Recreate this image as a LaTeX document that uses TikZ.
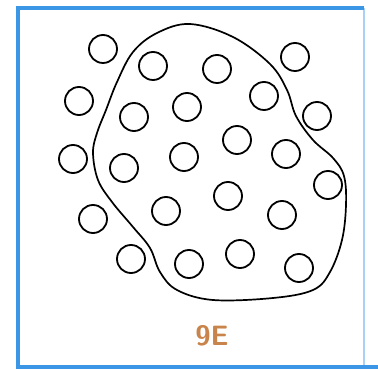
\documentclass[tikz,border=0pt]{standalone}
\usepackage{tikz}
\usetikzlibrary{positioning}
\definecolor{azulmarco}{HTML}{3C96E6}
\definecolor{azulclaro}{HTML}{A9D0F5}
\definecolor{ocre}{HTML}{C8844A}
\tikzset{
  bolita/.style={circle, draw=black, line width=1.8pt, minimum size=28pt, inner sep=0pt},
  contorno/.style={draw=black, line width=1.7pt},
  marco/.style={draw=azulmarco, line width=3.5pt},
  marcoclaro/.style={draw=azulclaro, line width=2pt},
  pie/.style={font=\sffamily\bfseries\fontsize{28}{28}\selectfont, text=ocre}
}
\begin{document}
\begin{tikzpicture}[x=1pt, y=-1pt]
  \useasboundingbox (0,0) rectangle (378,371);
  % Marco azul
  \draw [marcoclaro] (364,8) -- (364,367);
  \draw [marco] (364,8) -- (18,8) -- (18,367) -- (378,367);
  % Contorno cerrado
  \draw [contorno] plot [smooth cycle, tension=0.6] coordinates {
    (190,24) (233,37) (270,64) (287,90) (296,116) (313,140) (333,158) (344,176)
    (346,205) (342,240) (330,272) (313,290) (273,298) (213,300) (177,290)
    (160,272) (150,248) (133,227) (112,202) (98,180) (93,153) (97,133)
    (106,110) (117,82) (133,52) (157,33)};
  % Bolitas dentro y fuera
  \node (b1) [bolita] at (103,49) {}; \node (b2) [bolita] at (153,66) {};
  \node (b3) [bolita] at (217,69) {}; \node (b4) [bolita] at (295,57) {};
  \node (b5) [bolita] at (79,101) {}; \node (b6) [bolita] at (134,117) {};
  \node (b7) [bolita] at (187,107) {}; \node (b8) [bolita] at (264,96) {};
  \node (b9) [bolita] at (317,116) {}; \node (b10) [bolita] at (73,159) {};
  \node (b11) [bolita] at (124,168) {}; \node (b12) [bolita] at (184,157) {};
  \node (b13) [bolita] at (237,140) {}; \node (b14) [bolita] at (286,154) {};
  \node (b15) [bolita] at (328,185) {}; \node (b16) [bolita] at (93,219) {};
  \node (b17) [bolita] at (166,211) {}; \node (b18) [bolita] at (228,196) {};
  \node (b19) [bolita] at (282,215) {}; \node (b20) [bolita] at (131,259) {};
  \node (b21) [bolita] at (189,264) {}; \node (b22) [bolita] at (240,254) {};
  \node (b23) [bolita] at (299,268) {};
  % Pie
  \node (pie) [pie] at (212,336) {9E};
\end{tikzpicture}
\end{document}
